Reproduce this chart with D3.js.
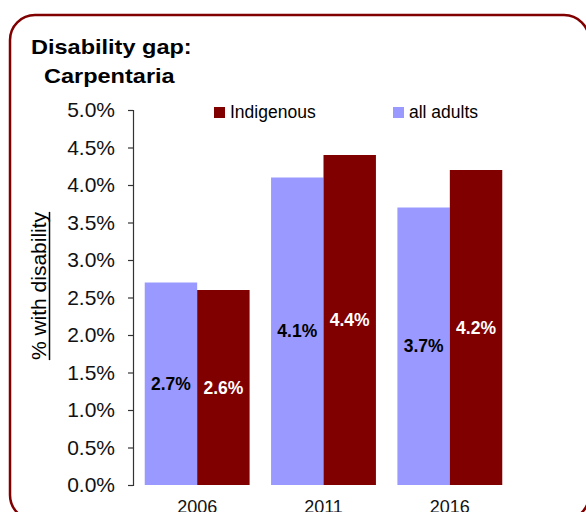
<!DOCTYPE html>
<html>
<head>
<meta charset="utf-8">
<script src="https://cdn.jsdelivr.net/npm/d3@7"></script>
<style>
  html, body { margin: 0; padding: 0; background: #fff; }
  svg { display: block; font-family: "Liberation Sans", Arial, sans-serif; }
</style>
</head>
<body>
<svg id="chart" width="586" height="512"></svg>
<script>
const years = ["2006", "2011", "2016"];
const allAdults = [2.7, 4.1, 3.7];
const indigenous = [2.6, 4.4, 4.2];
const seriesNames = ["all adults", "Indigenous"];
const legendOrder = ["Indigenous", "all adults"];
const yTicks = [0, 0.5, 1.0, 1.5, 2.0, 2.5, 3.0, 3.5, 4.0, 4.5, 5.0];
const titleLines = ["Disability gap:", "Carpentaria"];
const yTitle = "% with disability";

const colors = { "all adults": "#9999ff", "Indigenous": "#800000" };
const labelColors = { "all adults": "#000", "Indigenous": "#fff" };

const svg = d3.select("#chart");

// frame
svg.append("rect")
  .attr("x", 10).attr("y", 15)
  .attr("width", 579).attr("height", 505)
  .attr("rx", 25).attr("ry", 25)
  .attr("fill", "none")
  .attr("stroke", "#800000")
  .attr("stroke-width", 2.5);

// title
svg.append("text")
  .attr("transform", "translate(31,54) scale(1.12,1)")
  .attr("font-size", 21).attr("font-weight", "bold").attr("fill", "#000")
  .text(titleLines[0]);
svg.append("text")
  .attr("transform", "translate(44,83) scale(1.12,1)")
  .attr("font-size", 21).attr("font-weight", "bold").attr("fill", "#000")
  .text(titleLines[1]);

// scales
const y = d3.scaleLinear().domain([0, 5]).range([485, 110]);
const x0 = d3.scaleBand().domain(years).range([134, 513]).paddingInner(0.17).paddingOuter(0.085);
const x1 = d3.scaleBand().domain(seriesNames).range([0, x0.bandwidth()]);

// y axis
const yAxis = d3.axisLeft(y).tickValues(yTicks).tickSize(5).tickPadding(13)
  .tickFormat(d => d.toFixed(1) + "%");
const yg = svg.append("g").attr("transform", "translate(133,0)").call(yAxis);
yg.select(".domain").attr("stroke", "#333").attr("stroke-width", 1.2);
yg.selectAll(".tick line").attr("stroke", "#333").attr("stroke-width", 1.2);
yg.selectAll(".tick text").attr("font-size", 21).attr("fill", "#111")
  .attr("font-family", "'Liberation Sans', Arial, sans-serif");

// y title with underline
const yt = svg.append("text")
  .attr("transform", "translate(46,286) rotate(-90)")
  .attr("text-anchor", "middle")
  .attr("font-size", 21).attr("fill", "#000")
  .text(yTitle);
const tl = yt.node().getComputedTextLength();
svg.append("line")
  .attr("x1", 49.5).attr("x2", 49.5)
  .attr("y1", 286 - tl / 2).attr("y2", 286 + tl / 2)
  .attr("stroke", "#000").attr("stroke-width", 1.5);

// bars
const data = years.map((yr, i) => ({
  year: yr,
  values: [
    { key: "all adults", value: allAdults[i] },
    { key: "Indigenous", value: indigenous[i] }
  ]
}));

const groups = svg.append("g").selectAll("g").data(data).join("g")
  .attr("transform", d => `translate(${x0(d.year)},0)`);

groups.selectAll("rect").data(d => d.values).join("rect")
  .attr("x", d => x1(d.key))
  .attr("y", d => y(d.value))
  .attr("width", x1.bandwidth())
  .attr("height", d => y(0) - y(d.value))
  .attr("fill", d => colors[d.key]);

groups.selectAll("text.val").data(d => d.values).join("text")
  .attr("class", "val")
  .attr("x", d => x1(d.key) + x1.bandwidth() / 2)
  .attr("y", d => (y(d.value) + y(0)) / 2)
  .attr("dy", "0.35em")
  .attr("text-anchor", "middle")
  .attr("font-size", 17.5).attr("font-weight", "bold")
  .attr("fill", d => labelColors[d.key])
  .text(d => d.value.toFixed(1) + "%");

// x labels
svg.append("g").selectAll("text").data(years).join("text")
  .attr("x", d => x0(d) + x0.bandwidth() / 2)
  .attr("y", 513)
  .attr("text-anchor", "middle")
  .attr("font-size", 18).attr("fill", "#111")
  .text(d => d);

// legend
const legendX = { "Indigenous": 214, "all adults": 393 };
const lg = svg.append("g").selectAll("g").data(legendOrder).join("g")
  .attr("transform", d => `translate(${legendX[d]},107)`);
lg.append("rect").attr("width", 11).attr("height", 11).attr("fill", d => colors[d]);
lg.append("text").attr("x", 16).attr("y", 11)
  .attr("font-size", 17.5).attr("fill", "#000")
  .text(d => d);
</script>
</body>
</html>
